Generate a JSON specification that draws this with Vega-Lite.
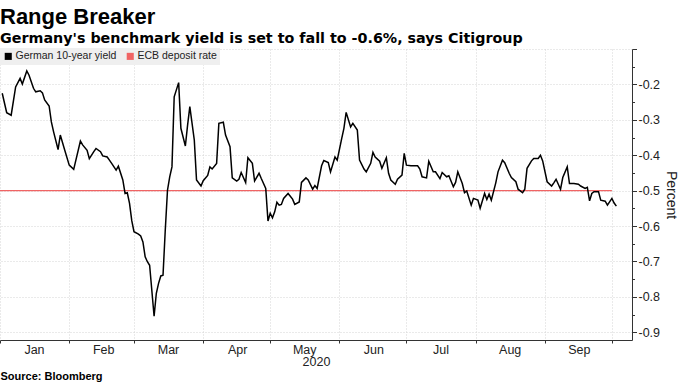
{
  "$schema": "https://vega.github.io/schema/vega-lite/v6.json",
  "width": 632,
  "height": 291,
  "autosize": "none",
  "padding": {"left": 0, "top": 49, "right": 48, "bottom": 43},
  "background": "white",
  "title": {
    "text": "Range Breaker",
    "subtitle": "Germany's benchmark yield is set to fall to -0.6%, says Citigroup",
    "anchor": "start",
    "frame": "group",
    "font": "Liberation Sans",
    "fontSize": 22,
    "fontWeight": "bold",
    "color": "#000000",
    "subtitleFont": "DejaVu Sans",
    "subtitleFontSize": 14.3,
    "subtitleFontWeight": "bold",
    "subtitleColor": "#000000",
    "subtitlePadding": 3,
    "offset": -4
  },
  "config": {"view": {"stroke": null}, "font": "Liberation Sans"},
  "datasets": {
    "ecb": [
      {"date": "2020-01-01", "value": -0.5, "series": "ECB deposit rate"},
      {"date": "2020-10-01", "value": -0.5, "series": "ECB deposit rate"}
    ],
    "yield": [
      {"date": "2020-01-02", "value": -0.225, "series": "German 10-year yield"},
      {"date": "2020-01-04", "value": -0.280, "series": "German 10-year yield"},
      {"date": "2020-01-06", "value": -0.287, "series": "German 10-year yield"},
      {"date": "2020-01-08", "value": -0.207, "series": "German 10-year yield"},
      {"date": "2020-01-10", "value": -0.183, "series": "German 10-year yield"},
      {"date": "2020-01-11", "value": -0.199, "series": "German 10-year yield"},
      {"date": "2020-01-13", "value": -0.162, "series": "German 10-year yield"},
      {"date": "2020-01-14", "value": -0.174, "series": "German 10-year yield"},
      {"date": "2020-01-16", "value": -0.211, "series": "German 10-year yield"},
      {"date": "2020-01-17", "value": -0.221, "series": "German 10-year yield"},
      {"date": "2020-01-19", "value": -0.218, "series": "German 10-year yield"},
      {"date": "2020-01-20", "value": -0.224, "series": "German 10-year yield"},
      {"date": "2020-01-21", "value": -0.244, "series": "German 10-year yield"},
      {"date": "2020-01-23", "value": -0.261, "series": "German 10-year yield"},
      {"date": "2020-01-24", "value": -0.306, "series": "German 10-year yield"},
      {"date": "2020-01-25", "value": -0.334, "series": "German 10-year yield"},
      {"date": "2020-01-27", "value": -0.384, "series": "German 10-year yield"},
      {"date": "2020-01-28", "value": -0.343, "series": "German 10-year yield"},
      {"date": "2020-01-30", "value": -0.386, "series": "German 10-year yield"},
      {"date": "2020-02-01", "value": -0.428, "series": "German 10-year yield"},
      {"date": "2020-02-03", "value": -0.440, "series": "German 10-year yield"},
      {"date": "2020-02-06", "value": -0.360, "series": "German 10-year yield"},
      {"date": "2020-02-07", "value": -0.371, "series": "German 10-year yield"},
      {"date": "2020-02-09", "value": -0.386, "series": "German 10-year yield"},
      {"date": "2020-02-10", "value": -0.410, "series": "German 10-year yield"},
      {"date": "2020-02-12", "value": -0.390, "series": "German 10-year yield"},
      {"date": "2020-02-13", "value": -0.381, "series": "German 10-year yield"},
      {"date": "2020-02-15", "value": -0.390, "series": "German 10-year yield"},
      {"date": "2020-02-16", "value": -0.402, "series": "German 10-year yield"},
      {"date": "2020-02-18", "value": -0.405, "series": "German 10-year yield"},
      {"date": "2020-02-19", "value": -0.414, "series": "German 10-year yield"},
      {"date": "2020-02-20", "value": -0.423, "series": "German 10-year yield"},
      {"date": "2020-02-22", "value": -0.442, "series": "German 10-year yield"},
      {"date": "2020-02-23", "value": -0.431, "series": "German 10-year yield"},
      {"date": "2020-02-25", "value": -0.470, "series": "German 10-year yield"},
      {"date": "2020-02-26", "value": -0.508, "series": "German 10-year yield"},
      {"date": "2020-02-27", "value": -0.506, "series": "German 10-year yield"},
      {"date": "2020-02-28", "value": -0.536, "series": "German 10-year yield"},
      {"date": "2020-02-29", "value": -0.585, "series": "German 10-year yield"},
      {"date": "2020-03-01", "value": -0.616, "series": "German 10-year yield"},
      {"date": "2020-03-03", "value": -0.623, "series": "German 10-year yield"},
      {"date": "2020-03-04", "value": -0.628, "series": "German 10-year yield"},
      {"date": "2020-03-05", "value": -0.645, "series": "German 10-year yield"},
      {"date": "2020-03-06", "value": -0.687, "series": "German 10-year yield"},
      {"date": "2020-03-07", "value": -0.701, "series": "German 10-year yield"},
      {"date": "2020-03-08", "value": -0.711, "series": "German 10-year yield"},
      {"date": "2020-03-10", "value": -0.855, "series": "German 10-year yield"},
      {"date": "2020-03-11", "value": -0.790, "series": "German 10-year yield"},
      {"date": "2020-03-12", "value": -0.762, "series": "German 10-year yield"},
      {"date": "2020-03-13", "value": -0.741, "series": "German 10-year yield"},
      {"date": "2020-03-14", "value": -0.739, "series": "German 10-year yield"},
      {"date": "2020-03-15", "value": -0.612, "series": "German 10-year yield"},
      {"date": "2020-03-16", "value": -0.499, "series": "German 10-year yield"},
      {"date": "2020-03-17", "value": -0.461, "series": "German 10-year yield"},
      {"date": "2020-03-18", "value": -0.433, "series": "German 10-year yield"},
      {"date": "2020-03-19", "value": -0.235, "series": "German 10-year yield"},
      {"date": "2020-03-21", "value": -0.195, "series": "German 10-year yield"},
      {"date": "2020-03-22", "value": -0.324, "series": "German 10-year yield"},
      {"date": "2020-03-24", "value": -0.374, "series": "German 10-year yield"},
      {"date": "2020-03-25", "value": -0.315, "series": "German 10-year yield"},
      {"date": "2020-03-26", "value": -0.263, "series": "German 10-year yield"},
      {"date": "2020-03-28", "value": -0.357, "series": "German 10-year yield"},
      {"date": "2020-03-29", "value": -0.470, "series": "German 10-year yield"},
      {"date": "2020-03-31", "value": -0.487, "series": "German 10-year yield"},
      {"date": "2020-04-01", "value": -0.472, "series": "German 10-year yield"},
      {"date": "2020-04-03", "value": -0.457, "series": "German 10-year yield"},
      {"date": "2020-04-04", "value": -0.433, "series": "German 10-year yield"},
      {"date": "2020-04-05", "value": -0.439, "series": "German 10-year yield"},
      {"date": "2020-04-07", "value": -0.423, "series": "German 10-year yield"},
      {"date": "2020-04-08", "value": -0.310, "series": "German 10-year yield"},
      {"date": "2020-04-10", "value": -0.307, "series": "German 10-year yield"},
      {"date": "2020-04-11", "value": -0.343, "series": "German 10-year yield"},
      {"date": "2020-04-13", "value": -0.376, "series": "German 10-year yield"},
      {"date": "2020-04-14", "value": -0.464, "series": "German 10-year yield"},
      {"date": "2020-04-16", "value": -0.473, "series": "German 10-year yield"},
      {"date": "2020-04-17", "value": -0.468, "series": "German 10-year yield"},
      {"date": "2020-04-18", "value": -0.449, "series": "German 10-year yield"},
      {"date": "2020-04-20", "value": -0.477, "series": "German 10-year yield"},
      {"date": "2020-04-21", "value": -0.407, "series": "German 10-year yield"},
      {"date": "2020-04-23", "value": -0.423, "series": "German 10-year yield"},
      {"date": "2020-04-24", "value": -0.473, "series": "German 10-year yield"},
      {"date": "2020-04-26", "value": -0.451, "series": "German 10-year yield"},
      {"date": "2020-04-27", "value": -0.466, "series": "German 10-year yield"},
      {"date": "2020-04-29", "value": -0.494, "series": "German 10-year yield"},
      {"date": "2020-04-30", "value": -0.586, "series": "German 10-year yield"},
      {"date": "2020-05-01", "value": -0.564, "series": "German 10-year yield"},
      {"date": "2020-05-02", "value": -0.577, "series": "German 10-year yield"},
      {"date": "2020-05-03", "value": -0.560, "series": "German 10-year yield"},
      {"date": "2020-05-04", "value": -0.533, "series": "German 10-year yield"},
      {"date": "2020-05-05", "value": -0.541, "series": "German 10-year yield"},
      {"date": "2020-05-06", "value": -0.539, "series": "German 10-year yield"},
      {"date": "2020-05-07", "value": -0.522, "series": "German 10-year yield"},
      {"date": "2020-05-09", "value": -0.508, "series": "German 10-year yield"},
      {"date": "2020-05-11", "value": -0.524, "series": "German 10-year yield"},
      {"date": "2020-05-12", "value": -0.539, "series": "German 10-year yield"},
      {"date": "2020-05-14", "value": -0.532, "series": "German 10-year yield"},
      {"date": "2020-05-15", "value": -0.477, "series": "German 10-year yield"},
      {"date": "2020-05-17", "value": -0.464, "series": "German 10-year yield"},
      {"date": "2020-05-18", "value": -0.470, "series": "German 10-year yield"},
      {"date": "2020-05-20", "value": -0.496, "series": "German 10-year yield"},
      {"date": "2020-05-21", "value": -0.486, "series": "German 10-year yield"},
      {"date": "2020-05-22", "value": -0.494, "series": "German 10-year yield"},
      {"date": "2020-05-24", "value": -0.430, "series": "German 10-year yield"},
      {"date": "2020-05-25", "value": -0.415, "series": "German 10-year yield"},
      {"date": "2020-05-27", "value": -0.421, "series": "German 10-year yield"},
      {"date": "2020-05-28", "value": -0.447, "series": "German 10-year yield"},
      {"date": "2020-05-30", "value": -0.405, "series": "German 10-year yield"},
      {"date": "2020-05-31", "value": -0.414, "series": "German 10-year yield"},
      {"date": "2020-06-02", "value": -0.353, "series": "German 10-year yield"},
      {"date": "2020-06-03", "value": -0.324, "series": "German 10-year yield"},
      {"date": "2020-06-04", "value": -0.279, "series": "German 10-year yield"},
      {"date": "2020-06-06", "value": -0.320, "series": "German 10-year yield"},
      {"date": "2020-06-07", "value": -0.310, "series": "German 10-year yield"},
      {"date": "2020-06-09", "value": -0.329, "series": "German 10-year yield"},
      {"date": "2020-06-10", "value": -0.414, "series": "German 10-year yield"},
      {"date": "2020-06-12", "value": -0.439, "series": "German 10-year yield"},
      {"date": "2020-06-13", "value": -0.447, "series": "German 10-year yield"},
      {"date": "2020-06-15", "value": -0.423, "series": "German 10-year yield"},
      {"date": "2020-06-16", "value": -0.392, "series": "German 10-year yield"},
      {"date": "2020-06-17", "value": -0.405, "series": "German 10-year yield"},
      {"date": "2020-06-19", "value": -0.417, "series": "German 10-year yield"},
      {"date": "2020-06-20", "value": -0.437, "series": "German 10-year yield"},
      {"date": "2020-06-22", "value": -0.407, "series": "German 10-year yield"},
      {"date": "2020-06-23", "value": -0.451, "series": "German 10-year yield"},
      {"date": "2020-06-24", "value": -0.470, "series": "German 10-year yield"},
      {"date": "2020-06-26", "value": -0.482, "series": "German 10-year yield"},
      {"date": "2020-06-27", "value": -0.468, "series": "German 10-year yield"},
      {"date": "2020-06-29", "value": -0.456, "series": "German 10-year yield"},
      {"date": "2020-06-30", "value": -0.395, "series": "German 10-year yield"},
      {"date": "2020-07-01", "value": -0.428, "series": "German 10-year yield"},
      {"date": "2020-07-03", "value": -0.430, "series": "German 10-year yield"},
      {"date": "2020-07-06", "value": -0.430, "series": "German 10-year yield"},
      {"date": "2020-07-07", "value": -0.439, "series": "German 10-year yield"},
      {"date": "2020-07-08", "value": -0.461, "series": "German 10-year yield"},
      {"date": "2020-07-10", "value": -0.464, "series": "German 10-year yield"},
      {"date": "2020-07-11", "value": -0.417, "series": "German 10-year yield"},
      {"date": "2020-07-13", "value": -0.447, "series": "German 10-year yield"},
      {"date": "2020-07-14", "value": -0.447, "series": "German 10-year yield"},
      {"date": "2020-07-16", "value": -0.466, "series": "German 10-year yield"},
      {"date": "2020-07-17", "value": -0.449, "series": "German 10-year yield"},
      {"date": "2020-07-19", "value": -0.461, "series": "German 10-year yield"},
      {"date": "2020-07-20", "value": -0.458, "series": "German 10-year yield"},
      {"date": "2020-07-22", "value": -0.489, "series": "German 10-year yield"},
      {"date": "2020-07-23", "value": -0.477, "series": "German 10-year yield"},
      {"date": "2020-07-24", "value": -0.447, "series": "German 10-year yield"},
      {"date": "2020-07-26", "value": -0.480, "series": "German 10-year yield"},
      {"date": "2020-07-27", "value": -0.506, "series": "German 10-year yield"},
      {"date": "2020-07-28", "value": -0.501, "series": "German 10-year yield"},
      {"date": "2020-07-30", "value": -0.541, "series": "German 10-year yield"},
      {"date": "2020-07-31", "value": -0.522, "series": "German 10-year yield"},
      {"date": "2020-08-02", "value": -0.527, "series": "German 10-year yield"},
      {"date": "2020-08-03", "value": -0.550, "series": "German 10-year yield"},
      {"date": "2020-08-05", "value": -0.508, "series": "German 10-year yield"},
      {"date": "2020-08-06", "value": -0.525, "series": "German 10-year yield"},
      {"date": "2020-08-07", "value": -0.510, "series": "German 10-year yield"},
      {"date": "2020-08-08", "value": -0.527, "series": "German 10-year yield"},
      {"date": "2020-08-10", "value": -0.478, "series": "German 10-year yield"},
      {"date": "2020-08-11", "value": -0.447, "series": "German 10-year yield"},
      {"date": "2020-08-13", "value": -0.414, "series": "German 10-year yield"},
      {"date": "2020-08-14", "value": -0.421, "series": "German 10-year yield"},
      {"date": "2020-08-16", "value": -0.451, "series": "German 10-year yield"},
      {"date": "2020-08-17", "value": -0.463, "series": "German 10-year yield"},
      {"date": "2020-08-19", "value": -0.475, "series": "German 10-year yield"},
      {"date": "2020-08-20", "value": -0.496, "series": "German 10-year yield"},
      {"date": "2020-08-22", "value": -0.506, "series": "German 10-year yield"},
      {"date": "2020-08-23", "value": -0.496, "series": "German 10-year yield"},
      {"date": "2020-08-24", "value": -0.437, "series": "German 10-year yield"},
      {"date": "2020-08-26", "value": -0.416, "series": "German 10-year yield"},
      {"date": "2020-08-27", "value": -0.409, "series": "German 10-year yield"},
      {"date": "2020-08-29", "value": -0.409, "series": "German 10-year yield"},
      {"date": "2020-08-30", "value": -0.400, "series": "German 10-year yield"},
      {"date": "2020-08-31", "value": -0.416, "series": "German 10-year yield"},
      {"date": "2020-09-02", "value": -0.475, "series": "German 10-year yield"},
      {"date": "2020-09-04", "value": -0.487, "series": "German 10-year yield"},
      {"date": "2020-09-05", "value": -0.478, "series": "German 10-year yield"},
      {"date": "2020-09-06", "value": -0.468, "series": "German 10-year yield"},
      {"date": "2020-09-08", "value": -0.496, "series": "German 10-year yield"},
      {"date": "2020-09-09", "value": -0.463, "series": "German 10-year yield"},
      {"date": "2020-09-11", "value": -0.433, "series": "German 10-year yield"},
      {"date": "2020-09-12", "value": -0.480, "series": "German 10-year yield"},
      {"date": "2020-09-14", "value": -0.480, "series": "German 10-year yield"},
      {"date": "2020-09-16", "value": -0.482, "series": "German 10-year yield"},
      {"date": "2020-09-17", "value": -0.487, "series": "German 10-year yield"},
      {"date": "2020-09-19", "value": -0.494, "series": "German 10-year yield"},
      {"date": "2020-09-20", "value": -0.491, "series": "German 10-year yield"},
      {"date": "2020-09-21", "value": -0.529, "series": "German 10-year yield"},
      {"date": "2020-09-22", "value": -0.508, "series": "German 10-year yield"},
      {"date": "2020-09-23", "value": -0.503, "series": "German 10-year yield"},
      {"date": "2020-09-25", "value": -0.503, "series": "German 10-year yield"},
      {"date": "2020-09-26", "value": -0.527, "series": "German 10-year yield"},
      {"date": "2020-09-28", "value": -0.530, "series": "German 10-year yield"},
      {"date": "2020-09-29", "value": -0.541, "series": "German 10-year yield"},
      {"date": "2020-10-01", "value": -0.522, "series": "German 10-year yield"},
      {"date": "2020-10-02", "value": -0.535, "series": "German 10-year yield"},
      {"date": "2020-10-03", "value": -0.544, "series": "German 10-year yield"}
    ]
  },
  "layer": [
    {
      "data": {"name": "ecb"},
      "mark": {"type": "line", "strokeWidth": 1.3},
      "encoding": {
        "x": {
          "field": "date",
          "type": "temporal",
          "scale": {
            "type": "utc",
            "domain": [
              {"year": 2020, "month": 1, "date": 1, "utc": true},
              {"year": 2020, "month": 10, "date": 10, "utc": true}
            ]
          },
          "axis": {
            "orient": "bottom",
            "labels": false,
            "ticks": false,
            "domain": false,
            "grid": false,
            "title": "Source: Bloomberg",
            "titleAnchor": "start",
            "titleFont": "Liberation Sans",
            "titleFontWeight": "bold",
            "titleFontSize": 11,
            "titleColor": "#000000",
            "titlePadding": 30
          }
        },
        "y": {
          "field": "value",
          "type": "quantitative",
          "scale": {"domain": [-0.922, -0.1], "nice": false, "zero": false},
          "axis": {
            "orient": "right",
            "values": [-0.85, -0.75, -0.65, -0.55, -0.45, -0.35, -0.25, -0.15],
            "labels": false,
            "grid": false,
            "domain": false,
            "title": null,
            "tickSize": 2.5,
            "tickColor": "#333333"
          }
        },
        "color": {
          "field": "series",
          "type": "nominal",
          "scale": {
            "domain": ["German 10-year yield", "ECB deposit rate"],
            "range": ["#000000", "#f06464"]
          },
          "legend": {
            "orient": "none",
            "legendX": 0,
            "legendY": -1,
            "direction": "horizontal",
            "title": null,
            "fillColor": "#efefef",
            "padding": 3,
            "symbolType": "square",
            "symbolSize": 50,
            "symbolStrokeWidth": 0,
            "labelFont": "Liberation Sans",
            "labelFontSize": 10.5,
            "labelColor": "#222222",
            "labelOffset": 2,
            "columnPadding": 8,
            "encode": {
              "symbols": {
                "update": {
                  "fill": {"scale": "color", "field": "value"},
                  "stroke": {"value": "transparent"}
                }
              }
            }
          }
        }
      }
    },
    {
      "data": {"name": "yield"},
      "mark": {"type": "line", "strokeWidth": 1.5},
      "encoding": {
        "x": {
          "field": "date",
          "type": "temporal",
          "axis": {
            "orient": "bottom",
            "values": [
              {"year": 2020, "month": 1, "date": 1, "utc": true},
              {"year": 2020, "month": 2, "date": 1, "utc": true},
              {"year": 2020, "month": 3, "date": 1, "utc": true},
              {"year": 2020, "month": 4, "date": 1, "utc": true},
              {"year": 2020, "month": 5, "date": 1, "utc": true},
              {"year": 2020, "month": 6, "date": 1, "utc": true},
              {"year": 2020, "month": 7, "date": 1, "utc": true},
              {"year": 2020, "month": 8, "date": 1, "utc": true},
              {"year": 2020, "month": 9, "date": 1, "utc": true},
              {"year": 2020, "month": 10, "date": 1, "utc": true}
            ],
            "labelExpr": "utcmonth(datum.value) == 9 ? '' : utcFormat(datum.value, '%b')",
            "labelOffset": 34,
            "labelFlush": false,
            "labelOverlap": false,
            "labelBound": false,
            "tickSize": 3,
            "labelPadding": 0,
            "labelFont": "Liberation Sans",
            "labelFontSize": 12.5,
            "labelColor": "#222222",
            "title": "2020",
            "titleFont": "Liberation Sans",
            "titleFontSize": 12.5,
            "titleFontWeight": "normal",
            "titleColor": "#222222",
            "titlePadding": 0,
            "domainColor": "#333333",
            "tickColor": "#333333",
            "grid": true,
            "gridColor": "#d4d4d4",
            "gridDash": [1, 2]
          }
        },
        "y": {
          "field": "value",
          "type": "quantitative",
          "axis": {
            "orient": "right",
            "values": [-0.9, -0.8, -0.7, -0.6, -0.5, -0.4, -0.3, -0.2, -0.1],
            "labelExpr": "datum.value > -0.15 ? '' : '-' + format(abs(datum.value), '.1f')",
            "labelOverlap": false,
            "labelSeparation": 0,
            "labelFlush": false,
            "labelBound": false,
            "title": "Percent",
            "titleFont": "Liberation Sans",
            "titleFontSize": 14,
            "titleFontWeight": "normal",
            "titleColor": "#222222",
            "titlePadding": 4,
            "tickSize": 4.5,
            "labelPadding": 1.5,
            "labelFont": "Liberation Sans",
            "labelFontSize": 12.5,
            "labelColor": "#222222",
            "domainColor": "#333333",
            "tickColor": "#333333",
            "grid": true,
            "gridColor": "#d4d4d4",
            "gridDash": [1, 2]
          }
        },
        "color": {"field": "series", "type": "nominal"}
      }
    }
  ],
  "resolve": {"axis": {"x": "independent", "y": "independent"}}
}
